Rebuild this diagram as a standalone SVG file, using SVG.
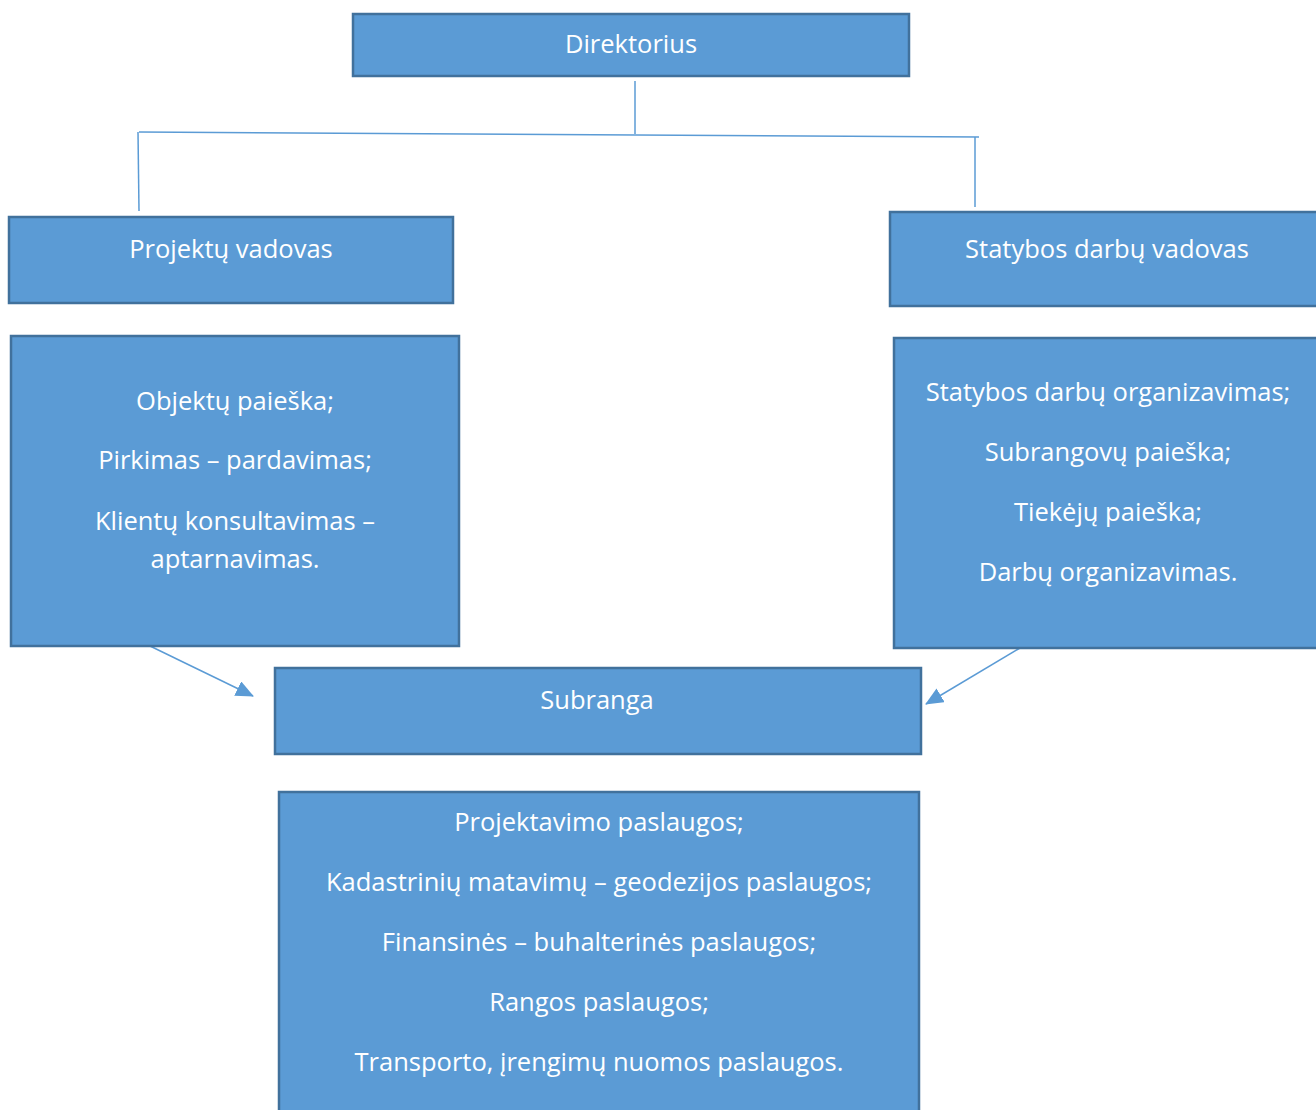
<svg xmlns="http://www.w3.org/2000/svg" width="1316" height="1110" viewBox="0 0 1316 1110">
  <style>
    .box { fill: #5B9BD5; stroke: #41719C; stroke-width: 2.5; }
    .lbl { fill: #FFFFFF; font-family: "Open Sans", Lato, sans-serif; font-size: 25.5px; text-anchor: middle; }
    .wire { stroke: #5B9BD5; stroke-width: 1.5; fill: none; }
  </style>
  <defs>
    <marker id="tri" markerWidth="18" markerHeight="16" refX="17" refY="8" orient="auto" markerUnits="userSpaceOnUse" viewBox="0 0 18 16">
      <path d="M0,0 L18,8 L0,16 z" fill="#5B9BD5"/>
    </marker>
  </defs>
  <rect width="1316" height="1110" fill="#FFFFFF"/>

  <g id="connectors">
    <line class="wire" x1="635" y1="81" x2="635" y2="134"/>
    <line class="wire" x1="139" y1="132" x2="979" y2="137"/>
    <line class="wire" x1="138" y1="132" x2="139" y2="211"/>
    <line class="wire" x1="975" y1="137" x2="975" y2="207"/>
    <line class="wire" x1="150" y1="646" x2="253" y2="696" marker-end="url(#tri)"/>
    <line class="wire" x1="1020" y1="648" x2="926" y2="704" marker-end="url(#tri)"/>
  </g>

  <g id="direktorius">
    <rect class="box" x="353" y="14" width="556" height="62"/>
    <text class="lbl" x="631" y="53">Direktorius</text>
  </g>

  <g id="projektu-vadovas">
    <rect class="box" x="9" y="217" width="444" height="86"/>
    <text class="lbl" x="231" y="258">Projektų vadovas</text>
  </g>

  <g id="statybos-vadovas">
    <rect class="box" x="890" y="212" width="430" height="94"/>
    <text class="lbl" x="1107" y="258">Statybos darbų vadovas</text>
  </g>

  <g id="projektu-funkcijos">
    <rect class="box" x="11" y="336" width="448" height="310"/>
    <text class="lbl" x="235" y="410">Objektų paieška;</text>
    <text class="lbl" x="235" y="469">Pirkimas – pardavimas;</text>
    <text class="lbl" x="235" y="530">Klientų konsultavimas –</text>
    <text class="lbl" x="235" y="568">aptarnavimas.</text>
  </g>

  <g id="statybos-funkcijos">
    <rect class="box" x="894" y="338" width="426" height="310"/>
    <text class="lbl" x="1108" y="401">Statybos darbų organizavimas;</text>
    <text class="lbl" x="1108" y="461">Subrangovų paieška;</text>
    <text class="lbl" x="1108" y="521">Tiekėjų paieška;</text>
    <text class="lbl" x="1108" y="581">Darbų organizavimas.</text>
  </g>

  <g id="subranga">
    <rect class="box" x="275" y="668" width="646" height="86"/>
    <text class="lbl" x="597" y="709">Subranga</text>
  </g>

  <g id="subrangos-paslaugos">
    <rect class="box" x="279" y="792" width="640" height="330"/>
    <text class="lbl" x="599" y="831">Projektavimo paslaugos;</text>
    <text class="lbl" x="599" y="891">Kadastrinių matavimų – geodezijos paslaugos;</text>
    <text class="lbl" x="599" y="951">Finansinės – buhalterinės paslaugos;</text>
    <text class="lbl" x="599" y="1011">Rangos paslaugos;</text>
    <text class="lbl" x="599" y="1071">Transporto, įrengimų nuomos paslaugos.</text>
  </g>
</svg>
